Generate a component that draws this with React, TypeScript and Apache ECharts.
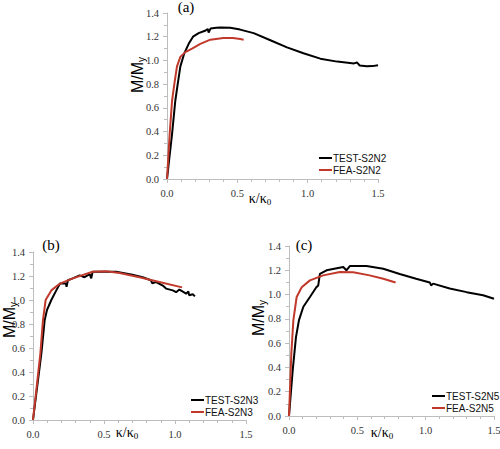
import React, { useEffect, useRef } from "react";
import * as echarts from "echarts";

// ---- data (κ/κ0, M/My) ----
const testS2N2: [number, number][] = [
  [0, 0], [0.036, 0.38], [0.059, 0.66], [0.076, 0.8], [0.095, 0.95], [0.123, 1.06],
  [0.154, 1.14], [0.185, 1.2], [0.225, 1.23], [0.27, 1.25], [0.29, 1.265], [0.296, 1.235],
  [0.31, 1.27], [0.35, 1.275], [0.38, 1.278], [0.45, 1.275], [0.52, 1.26], [0.616, 1.23],
  [0.735, 1.17], [0.853, 1.11], [0.97, 1.06], [1.09, 1.015], [1.21, 0.99], [1.33, 0.975],
  [1.35, 0.983], [1.37, 0.957], [1.42, 0.95], [1.46, 0.952], [1.5, 0.96],
];
const feaS2N2: [number, number][] = [
  [0, 0], [0.019, 0.38], [0.036, 0.66], [0.052, 0.8], [0.071, 0.95], [0.095, 1.03],
  [0.13, 1.07], [0.178, 1.1], [0.237, 1.14], [0.308, 1.175], [0.4, 1.19], [0.47, 1.19],
  [0.52, 1.18], [0.545, 1.175],
];
const testS2N3: [number, number][] = [
  [0, 0], [0.059, 0.555], [0.082, 0.83], [0.098, 0.915], [0.129, 1.0], [0.164, 1.08],
  [0.19, 1.137], [0.232, 1.137], [0.236, 1.11], [0.246, 1.165], [0.28, 1.18], [0.328, 1.205],
  [0.363, 1.19], [0.4, 1.215], [0.41, 1.18], [0.42, 1.235], [0.47, 1.235], [0.586, 1.235],
  [0.7, 1.21], [0.773, 1.19], [0.83, 1.165], [0.84, 1.14], [0.867, 1.15], [0.914, 1.12],
  [0.937, 1.095], [0.984, 1.08], [1.008, 1.065], [1.031, 1.087], [1.055, 1.07],
  [1.078, 1.053], [1.094, 1.07], [1.1, 1.04], [1.125, 1.048], [1.14, 1.03],
];
const feaS2N3: [number, number][] = [
  [0, 0], [0.052, 0.555], [0.07, 0.83], [0.089, 1.0], [0.129, 1.08], [0.19, 1.137],
  [0.28, 1.18], [0.42, 1.235], [0.515, 1.24], [0.61, 1.225], [0.75, 1.19], [0.89, 1.15],
  [1.05, 1.105],
];
const testS2N5: [number, number][] = [
  [0, 0], [0.027, 0.376], [0.051, 0.65], [0.073, 0.79], [0.105, 0.9], [0.153, 0.98],
  [0.2, 1.06], [0.214, 1.075], [0.226, 1.17], [0.275, 1.2], [0.397, 1.227], [0.42, 1.2],
  [0.445, 1.235], [0.567, 1.235], [0.69, 1.213], [0.81, 1.17], [0.93, 1.13],
  [1.03, 1.1], [1.04, 1.075], [1.054, 1.09], [1.176, 1.05], [1.3, 1.02], [1.42, 0.995],
  [1.5, 0.966],
];
const feaS2N5: [number, number][] = [
  [0, 0], [0.017, 0.513], [0.032, 0.79], [0.056, 0.98], [0.093, 1.06], [0.153, 1.117],
  [0.25, 1.158], [0.372, 1.186], [0.47, 1.183], [0.59, 1.158], [0.69, 1.13], [0.78, 1.1],
];

const panelLabels = ["(a)", "(b)", "(c)"];
const testNames = ["TEST-S2N2", "TEST-S2N3", "TEST-S2N5"];
const feaNames = ["FEA-S2N2", "FEA-S2N3", "FEA-S2N5"];
const testData = [testS2N2, testS2N3, testS2N5];
const feaData = [feaS2N2, feaS2N3, feaS2N5];

// ---- layout ----
const grids = [
  { left: 167, top: 13, width: 211, height: 166 },
  { left: 33, top: 252, width: 213, height: 168 },
  { left: 289, top: 246, width: 205, height: 170 },
];
const legendPos = [
  { left: 314, top: 148 },
  { left: 186, top: 390 },
  { left: 427, top: 386 },
];
const yNamePos = [
  [137, 75], [9, 320], [258, 318],
];
const xNamePos = [
  [260, 198], [127, 432], [382, 432],
];
const panelLabelPos = [
  [186, 7], [51, 245], [304, 245],
];

const AXIS_GRAY = "#bdbdbd";
const TICK_FONT = "'Liberation Serif', 'Times New Roman', serif";
const LEGEND_FONT = "'Liberation Sans Narrow', 'Arial Narrow', 'Liberation Sans', Arial, sans-serif";
const BLACK = "#000000";
const RED = "#c0392b";

export default function App() {
  const ref = useRef<HTMLDivElement>(null);
  useEffect(() => {
    if (!ref.current) return;
    const chart = echarts.init(ref.current, null, { renderer: "svg" });

    const axisCommon = {
      axisLine: { show: true, lineStyle: { color: AXIS_GRAY, width: 1 } },
      axisTick: { show: true, length: 4, lineStyle: { color: AXIS_GRAY } },
      minorTick: { show: true, length: 3, lineStyle: { color: AXIS_GRAY } },
      splitLine: { show: false },
      minorSplitLine: { show: false },
    };

    const xAxis = grids.map((_, i) => ({
      type: "value",
      gridIndex: i,
      min: 0,
      max: 1.5,
      interval: 0.5,
      ...axisCommon,
      minorTick: { ...axisCommon.minorTick, splitNumber: 5 },
      axisLabel: {
        color: "#333",
        fontSize: 10.5,
        fontFamily: TICK_FONT,
        margin: 9,
        formatter: (v: number) => v.toFixed(1),
      },
    }));
    const yAxis = grids.map((_, i) => ({
      type: "value",
      gridIndex: i,
      min: 0,
      max: 1.4,
      interval: 0.2,
      ...axisCommon,
      minorTick: { ...axisCommon.minorTick, splitNumber: 2 },
      axisLabel: {
        color: "#333",
        fontSize: 10.5,
        fontFamily: TICK_FONT,
        margin: 8,
        formatter: (v: number) => v.toFixed(1),
      },
    }));

    const series: any[] = [];
    for (let i = 0; i < 3; i++) {
      series.push({
        type: "line",
        name: testNames[i],
        xAxisIndex: i,
        yAxisIndex: i,
        data: testData[i],
        showSymbol: false,
        symbol: "none",
        lineStyle: { color: BLACK, width: 2 },
        itemStyle: { color: BLACK },
        z: 2,
      });
      series.push({
        type: "line",
        name: feaNames[i],
        xAxisIndex: i,
        yAxisIndex: i,
        data: feaData[i],
        showSymbol: false,
        symbol: "none",
        lineStyle: { color: RED, width: 2 },
        itemStyle: { color: RED },
        z: 3,
      });
    }

    const legend = legendPos.map((p, i) => ({
      left: p.left,
      top: p.top,
      orient: "vertical",
      data: [testNames[i], feaNames[i]],
      icon: "rect",
      itemWidth: 13,
      itemHeight: 2,
      itemGap: 2,
      selectedMode: false,
      textStyle: {
        fontSize: 10,
        fontFamily: LEGEND_FONT,
        color: "#111",
        padding: [0, 0, 0, -4],
      },
    }));

    const graphic: any[] = [];
    for (let i = 0; i < 3; i++) {
      graphic.push({
        type: "text",
        x: yNamePos[i][0],
        y: yNamePos[i][1],
        rotation: Math.PI / 2,
        style: {
          text: "{m|M/M}{s|y}",
          align: "center",
          verticalAlign: "middle",
          rich: {
            m: { fontSize: 16, fontFamily: "'Liberation Sans', Arial, sans-serif", fill: "#000" },
            s: { fontSize: 10, fontFamily: "'Liberation Sans', Arial, sans-serif", fill: "#000", padding: [9, 0, 0, 0] },
          },
        },
      });
      graphic.push({
        type: "text",
        x: xNamePos[i][0],
        y: xNamePos[i][1],
        style: {
          text: "{m|κ/κ}{s|0}",
          align: "center",
          verticalAlign: "middle",
          rich: {
            m: { fontSize: 14, fontFamily: "'Liberation Serif', 'Times New Roman', serif", fill: "#000" },
            s: { fontSize: 9, fontFamily: "'Liberation Serif', 'Times New Roman', serif", fill: "#000", padding: [7, 0, 0, 0] },
          },
        },
      });
      graphic.push({
        type: "text",
        x: panelLabelPos[i][0],
        y: panelLabelPos[i][1],
        style: {
          text: panelLabels[i],
          align: "center",
          verticalAlign: "middle",
          fontSize: 15,
          fontFamily: "'Liberation Serif', 'Times New Roman', serif",
          fill: "#000",
        },
      });
    }

    chart.setOption({
      animation: false,
      backgroundColor: "#ffffff",
      grid: grids.map((g) => ({ ...g, containLabel: false, outerBoundsMode: "none" })),
      xAxis,
      yAxis,
      legend,
      series,
      graphic,
    });
    return () => chart.dispose();
  }, []);

  return (
    <div
      ref={ref}
      style={{ position: "fixed", left: 0, top: 0, width: 500, height: 449 }}
    />
  );
}
